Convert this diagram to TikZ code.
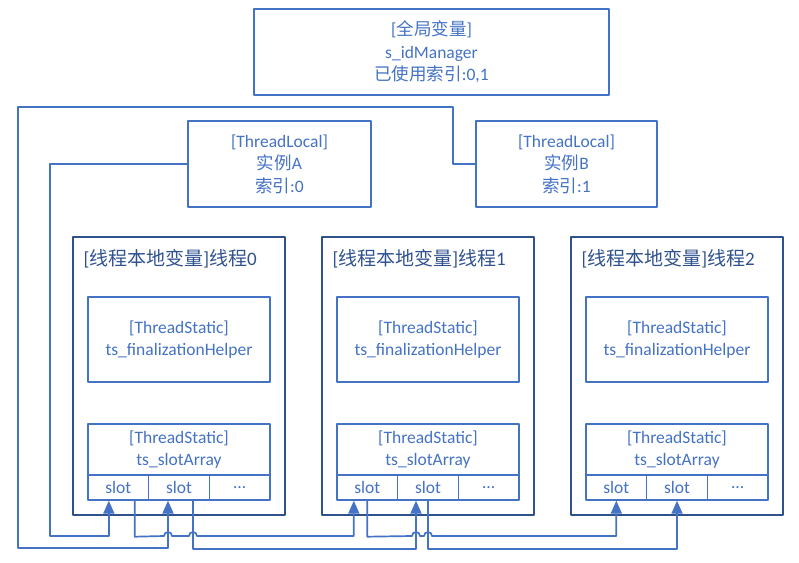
\documentclass[tikz,border=0pt]{standalone}
\usepackage{fontspec}
\setmainfont{Carlito}
\newfontfamily\cjk{Noto Sans CJK SC}
\usetikzlibrary{arrows.meta}
\definecolor{lblue}{HTML}{4472C4}
\definecolor{dblue}{HTML}{2F528F}
\begin{document}
\begin{tikzpicture}[x=1pt, y=1pt, line join=round, >={Triangle[length=13pt,width=11pt]},
	box/.style={draw=lblue, line width=1.4pt, text=lblue, align=center, inner sep=0pt, font=\fontsize{17.5}{22.5}\selectfont},
	frame/.style={draw=dblue, line width=1.4pt, inner sep=0pt},
	lbl/.style={text=dblue, inner sep=0pt, anchor=west, font=\fontsize{19}{22}\selectfont},
	wire/.style={draw=lblue, line width=1.7pt}]
	\useasboundingbox (0,0) rectangle (799,562);
	\node[box, minimum width=355pt, minimum height=86pt] (glob) at (431.5,510) {[{\cjk 全局变量}]\\s\_idManager\\{\cjk 已使用索引}:0,1};
	\node[box, minimum width=183pt, minimum height=86pt] (tlA) at (279.5,398) {[ThreadLocal]\\{\cjk 实例}A\\{\cjk 索引}:0};
	\node[box, minimum width=181pt, minimum height=86pt] (tlB) at (566.5,398) {[ThreadLocal]\\{\cjk 实例}B\\{\cjk 索引}:1};
	% one frame per thread
	\foreach \i/\x in {0/179,1/428,2/677}{
		\node[frame, minimum width=212pt, minimum height=278pt] (th\i) at (\x,186) {};
		\node[lbl] (lb\i) at ([shift={(11,-22)}]th\i.north west) {[{\cjk 线程本地变量}]{\cjk 线程}\i};
		\node[box, minimum width=182pt, minimum height=85pt] (hp\i) at (\x,222.5) {[ThreadStatic]\\ts\_finalizationHelper};
		\node[box, minimum width=182pt, minimum height=51pt] (sa\i) at (\x,112.5) {[ThreadStatic]\\ts\_slotArray};
		\foreach \c/\t in {0/slot,1/slot,2/\ldots}
		\node[box, minimum width=60.67pt, minimum height=25pt] (s\i\c) at (\x-60.67+\c*60.67,74.5) {\t};
	}
	% instances to slots
	\draw[wire,->] (tlA.west) -| (50,26) -| ([xshift=-9.5pt]s00.south);
	\draw[wire,->] (tlB.west) -| (453,455) -| (18,14) -| ([xshift=-11pt]s01.south);
	% slot chains
	\draw[wire,->] ([xshift=16.5pt]s00.south) -- ++(0,-36) -- (164,26) arc[start angle=180, end angle=0, radius=4pt]
		-- (189,26) arc[start angle=180, end angle=0, radius=4pt] -| ([xshift=-13.5pt]s10.south);
	\draw[wire,->] ([xshift=14pt]s01.south) -- ++(0,-48) -| ([xshift=-12pt]s11.south);
	\draw[wire,->] (s10.south) -- ++(0,-36) -- (412,26) arc[start angle=180, end angle=0, radius=4pt]
		-- (424,26) arc[start angle=180, end angle=0, radius=4pt] -| (s20.south);
	\draw[wire,->] (s11.south) -- ++(0,-48) -| (s21.south);
\end{tikzpicture}
\end{document}
